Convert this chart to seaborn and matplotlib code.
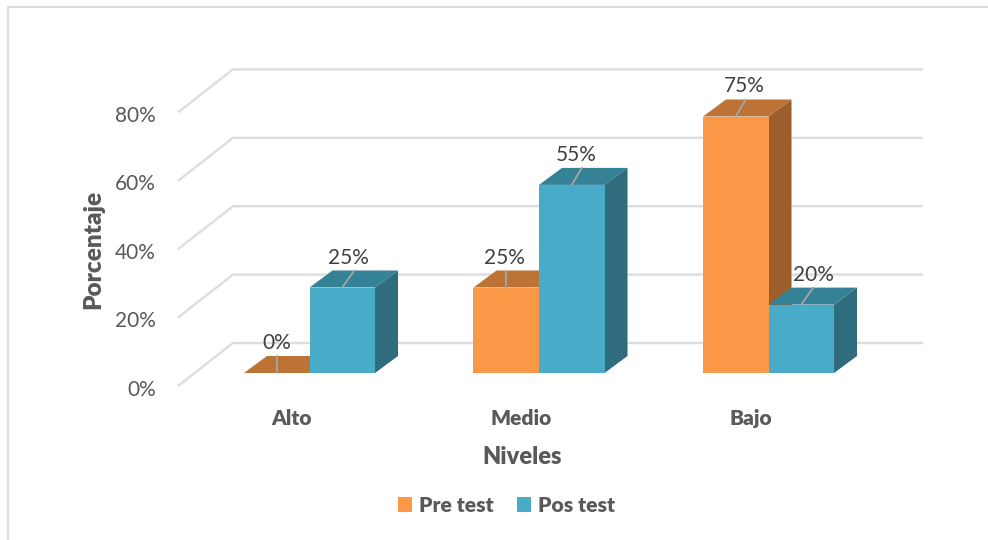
import matplotlib
matplotlib.use('Agg')
import matplotlib.pyplot as plt
import pandas as pd
import seaborn as sns
from matplotlib.lines import Line2D
from matplotlib.patches import Polygon
from matplotlib.transforms import ScaledTranslation

# datos
niveles = ['Alto', 'Medio', 'Bajo']
pre_test = [0, 25, 75]
pos_test = [25, 55, 20]
y_ticks = [0, 20, 40, 60, 80]

# layout en pixeles de la imagen original
W, H = 988, 540
PX_LEFT, PX_RIGHT, PX_TOP, PX_BOTTOM = 178, 923, 70, 386
PX_BASE = 373          # donde nace la cara frontal de las barras
PX_PER_UNIT = 3.42     # pixeles por punto porcentual
PX_PER_CAT = 229.5
PX_FIRST_CAT = 309.5
BAR_DEPTH = (23, 17)   # profundidad de cada barra
WALL_DEPTH = (55, 43)  # profundidad del piso
FLOOR_FRONT = PX_BOTTOM - PX_BASE

# ajustes de las etiquetas: (dx hoja, dx texto) por barra
LEADERS = {'Pre test': [(0, 0), (0, -2), (10, 9)],
           'Pos test': [(12, 6), (10, 4), (12, 12)]}

COLORS = {'Pre test': ('#FA9847', '#BC7335', '#9C5F2B'),
          'Pos test': ('#48ACC8', '#358195', '#2F6C7E')}
GRID = '#DDDDDD'
TEXT = '#595959'

df = pd.DataFrame({
    'Niveles': niveles * 2,
    'Porcentaje': pre_test + pos_test,
    'Serie': ['Pre test'] * len(niveles) + ['Pos test'] * len(niveles),
})

sns.set_theme(style='white')
plt.rcParams['font.family'] = ['Lato', 'DejaVu Sans']

fig = plt.figure(figsize=(W / 100, H / 100), dpi=100)
ax = fig.add_axes([PX_LEFT / W, 1 - PX_BOTTOM / H,
                   (PX_RIGHT - PX_LEFT) / W, (PX_BOTTOM - PX_TOP) / H])

sns.barplot(data=df, x='Niveles', y='Porcentaje', hue='Serie', ax=ax,
            palette={k: v[0] for k, v in COLORS.items()},
            width=0.571, gap=0, saturation=1, linewidth=0, zorder=3)

ax.set_xlim((PX_LEFT - PX_FIRST_CAT) / PX_PER_CAT, (PX_RIGHT - PX_FIRST_CAT) / PX_PER_CAT)
ax.set_ylim((PX_BASE - PX_BOTTOM) / PX_PER_UNIT, (PX_BASE - PX_TOP) / PX_PER_UNIT)


def dx(px):
    return px / PX_PER_CAT


def dy(px):
    return px / PX_PER_UNIT


# paredes: linea del piso + linea del fondo
y_front = -dy(FLOOR_FRONT)
x_start, x_end = ax.get_xlim()
for v in y_ticks:
    ax.plot([x_start, x_start + dx(WALL_DEPTH[0]), x_end],
            [v + y_front, v + y_front + dy(WALL_DEPTH[1]), v + y_front + dy(WALL_DEPTH[1])],
            color=GRID, lw=1.7, zorder=1, clip_on=False, solid_joinstyle='miter',
            solid_capstyle='butt')

# caras 3D a partir de las barras que dibujo seaborn
for order, (serie, container) in enumerate(zip(['Pre test', 'Pos test'], ax.containers)):
    _, top_color, side_color = COLORS[serie]
    for bar, (leader_dx, text_dx) in zip(container, LEADERS[serie]):
        x0, x1 = bar.get_x(), bar.get_x() + bar.get_width()
        h = bar.get_height()
        ddx, ddy = dx(BAR_DEPTH[0]), dy(BAR_DEPTH[1])
        top = Polygon([(x0, h), (x1, h), (x1 + ddx, h + ddy), (x0 + ddx, h + ddy)],
                      fc=top_color, ec='none', zorder=2 + order * 0.3)
        side = Polygon([(x1, 0), (x1 + ddx, ddy), (x1 + ddx, h + ddy), (x1, h)],
                       fc=side_color, ec='none', zorder=2 + order * 0.3)
        ax.add_patch(side)
        ax.add_patch(top)
        xc = (x0 + x1) / 2
        ax.plot([xc, xc + dx(leader_dx)], [h, h + ddy], color='#A6A6A6', lw=1.3,
                zorder=4)
        ax.text(xc + dx(text_dx), h + dy(30), f'{h:.0f}%', ha='center', va='center',
                fontsize=15, color='#404040', zorder=5)

# ejes
sns.despine(ax=ax, left=True, bottom=True, top=True, right=True)
ax.set_yticks([v + y_front for v in y_ticks])
ax.set_yticklabels([f'{v}%' for v in y_ticks])
ax.set_xticks([i - dx(17.5) for i in range(len(niveles))])
ax.set_xticklabels(niveles)
ax.tick_params(axis='y', length=0, pad=16, labelsize=15, labelcolor=TEXT)
ax.tick_params(axis='x', length=0, pad=16.5, labelsize=15)
down = ScaledTranslation(0, -1.5 / 100, fig.dpi_scale_trans)
for lab in ax.get_yticklabels():
    lab.set_transform(lab.get_transform() + down)
for lab in ax.get_xticklabels():
    lab.set_color(TEXT)
    lab.set_fontweight('heavy')

ax.set_xlabel('Niveles', fontsize=17, fontweight='heavy', color=TEXT)
ax.set_ylabel('Porcentaje', fontsize=17.5, fontweight='heavy', color=TEXT)
ax.xaxis.set_label_coords((522 - PX_LEFT) / (PX_RIGHT - PX_LEFT),
                          (PX_BOTTOM - 457) / (PX_BOTTOM - PX_TOP), ax.transAxes)
ax.yaxis.set_label_coords((93 - PX_LEFT) / (PX_RIGHT - PX_LEFT),
                          (PX_BOTTOM - 249) / (PX_BOTTOM - PX_TOP), ax.transAxes)
ax.xaxis.label.set_verticalalignment('center')
ax.yaxis.label.set_verticalalignment('center')

sns.move_legend(ax, 'center', bbox_to_anchor=(506.5 / W, 1 - 505.5 / H),
                bbox_transform=fig.transFigure, ncol=2, frameon=False, title=None,
                fontsize=15.2, handlelength=0.66, handleheight=0.66, handletextpad=0.35,
                columnspacing=1.09, borderpad=0, borderaxespad=0)
for txt in ax.get_legend().get_texts():
    txt.set_color(TEXT)
    txt.set_fontweight('heavy')

# marco exterior recortado
fig.add_artist(Line2D([7.5 / W, 7.5 / W, 1], [0, 1 - 6.5 / H, 1 - 6.5 / H],
                      color=GRID, lw=1.5, solid_joinstyle='miter'))

fig.savefig('out.png', dpi=100)
plt.close(fig)
